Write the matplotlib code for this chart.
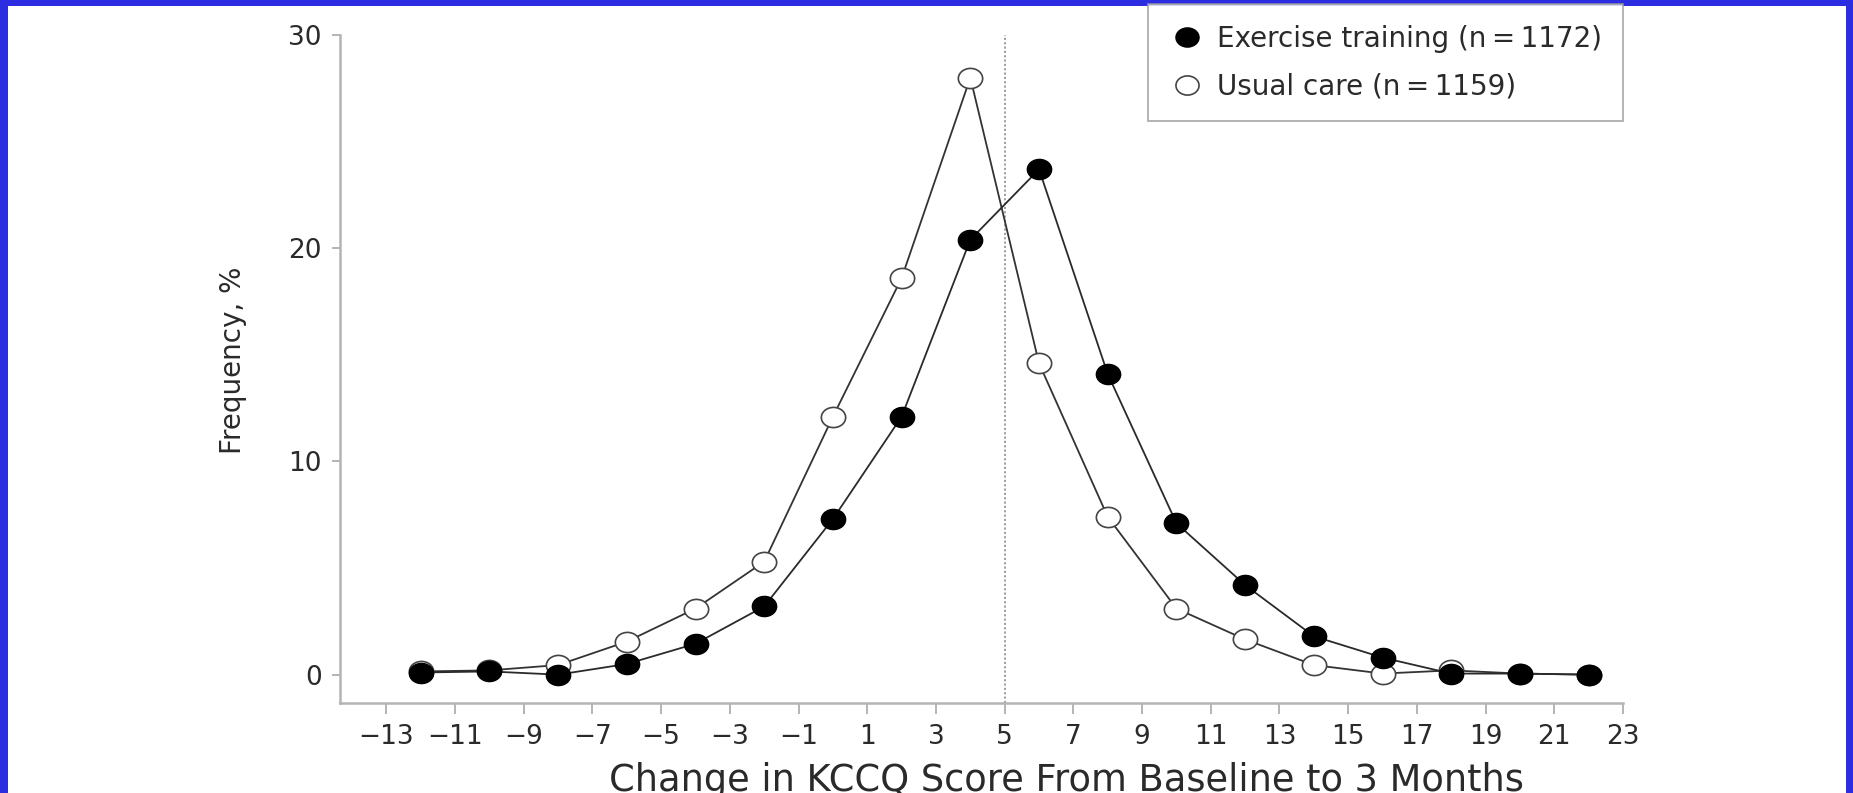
import matplotlib
matplotlib.use("Agg")
import matplotlib.pyplot as plt
from matplotlib.patches import Rectangle
from matplotlib.path import Path
from matplotlib.transforms import Affine2D

plt.rcParams['font.family'] = ['DejaVu Sans']

# change in KCCQ score (bin centres)
scores = [-12, -10, -8, -6, -4, -2, 0, 2, 4, 6, 8, 10, 12, 14, 16, 18, 20, 22]
exercise = [0.1, 0.15, 0.0, 0.5, 1.45, 3.2, 7.3, 12.1, 20.4, 23.7, 14.1, 7.1, 4.2, 1.8, 0.8, 0.05, 0.05, 0.0]
usual = [0.15, 0.2, 0.45, 1.55, 3.1, 5.3, 12.1, 18.6, 28.0, 14.6, 7.4, 3.1, 1.65, 0.45, 0.05, 0.2, 0.05, 0.0]
xticks = list(range(-13, 24, 2))
yticks = [0, 10, 20, 30]
ref_line = 5

# slightly flattened circle, the original picture is stretched sideways
ell = Path.unit_circle().transformed(Affine2D().scale(1.0, 0.83))

fig = plt.figure(figsize=(18.53, 7.93), dpi=100, facecolor='#2c2ce0')
fig.patches.append(Rectangle((8/1853, 0), (1846-8)/1853, (793-6)/793,
                             transform=fig.transFigure, facecolor='white',
                             edgecolor='none', zorder=-10))

ax = fig.add_axes([340/1853, 90/793, (1623-340)/1853, (703-35)/793])
ax.set_facecolor('none')

ax.axvline(ref_line, color='#999999', linestyle=(0, (1.2, 1.2)), linewidth=1.3, zorder=1)

ax.plot(scores, usual, color='#333333', linewidth=1.3, marker=ell, markersize=17.5,
        markerfacecolor='white', markeredgecolor='#444444', markeredgewidth=1.2,
        label='Usual care (n\u2009=\u20091159)', zorder=2)
ax.plot(scores, exercise, color='#2a2a2a', linewidth=1.3, marker=ell, markersize=17.5,
        markerfacecolor='black', markeredgecolor='black',
        label='Exercise training (n\u2009=\u20091172)', zorder=3)

ax.set_xlim(-14.35, 23)
ax.set_ylim(-1.33, 30)
ax.set_xticks(xticks)
ax.set_xticklabels([str(t).replace('-', '\u2212') for t in xticks])
ax.set_yticks(yticks)

for s in ['top', 'right']:
    ax.spines[s].set_visible(False)
for s in ['left', 'bottom']:
    ax.spines[s].set_color('#b4b4b4')
    ax.spines[s].set_linewidth(1.8)

ax.tick_params(axis='x', direction='out', length=8, width=1.4, color='#b4b4b4',
               labelsize=19, labelcolor='#2a2a2a', pad=7)
ax.tick_params(axis='y', direction='out', length=6, width=1.4, color='#b4b4b4',
               labelsize=19, labelcolor='#2a2a2a', pad=7)

ax.set_xlabel('Change in KCCQ Score From Baseline to 3 Months', fontsize=26.5,
              color='#2a2a2a', labelpad=9)
ax.xaxis.label.set_x(0.566)
ax.set_ylabel('Frequency, %', fontsize=20, color='#2a2a2a', labelpad=30)
ax.yaxis.label.set_y(0.513)

h, l = ax.get_legend_handles_labels()
leg = ax.legend(h[::-1], l[::-1], loc='upper right',
                bbox_to_anchor=(1623/1853, 789/793), bbox_transform=fig.transFigure,
                fontsize=20, frameon=True, fancybox=False, borderaxespad=0,
                handletextpad=0.45, handlelength=1.3, borderpad=0.75,
                labelspacing=0.7, markerscale=0.95)
leg.get_frame().set_edgecolor('#999999')
leg.get_frame().set_linewidth(1.3)
for t in leg.get_texts():
    t.set_color('#2a2a2a')
for lh in leg.legend_handles:
    lh.set_linestyle('none')

fig.savefig('out.png', dpi=100, facecolor=fig.get_facecolor())
